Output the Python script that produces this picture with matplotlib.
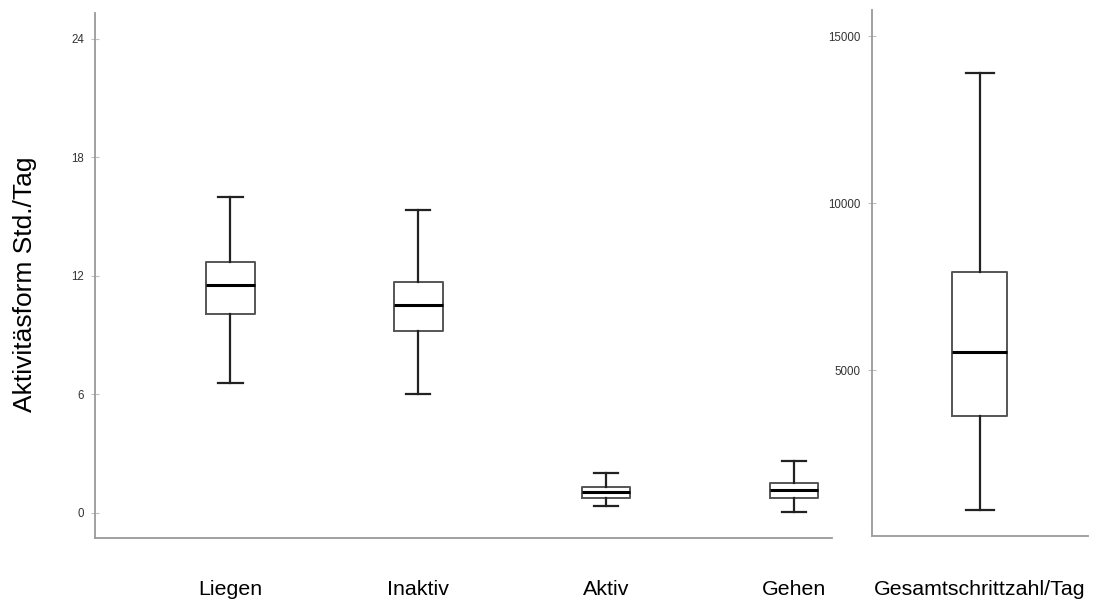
import matplotlib.pyplot as plt

# Activity categories (hours/day)
categories = ['Liegen', 'Inaktiv', 'Aktiv', 'Gehen']
whislo = [6.58, 6.03, 0.35, 0.05]
q1 = [10.08, 9.2, 0.76, 0.76]
med = [11.54, 10.53, 1.06, 1.16]
q3 = [12.7, 11.7, 1.32, 1.52]
whishi = [16.0, 15.34, 2.03, 2.63]

# Steps per day
steps_label = 'Gesamtschrittzahl/Tag'
steps_stats = [809, 3623, 5539, 7934, 13892]  # lo, q1, med, q3, hi

hour_ticks = [0, 6, 12, 18, 24]
step_ticks = [5000, 10000, 15000]

plt.rcParams['font.family'] = ['Liberation Sans', 'DejaVu Sans']

fig = plt.figure(figsize=(10.96, 6.02), dpi=100)
ax1 = fig.add_axes([0.0867, 0.1063, 0.672, 0.872])
ax2 = fig.add_axes([0.7956, 0.1096, 0.197, 0.873])

boxprops = dict(color='#555555', linewidth=1.4)
whiskerprops = dict(color='#222222', linewidth=1.6)
capprops = dict(color='#222222', linewidth=1.6)
medianprops = dict(color='black', linewidth=2.2)


def style_axis(ax, pad):
    for side in ['top', 'right']:
        ax.spines[side].set_visible(False)
    for side in ['left', 'bottom']:
        ax.spines[side].set_color('#9a9a9a')
        ax.spines[side].set_linewidth(1.3)
    ax.tick_params(axis='y', direction='inout', length=6, color='#c0c0c0',
                   labelsize=8.3, labelcolor='#333333', pad=5)
    ax.tick_params(axis='x', length=0, labelsize=15.4, pad=pad, labelcolor='black')


stats = []
for i, name in enumerate(categories):
    stats.append(dict(label=name, whislo=whislo[i], q1=q1[i], med=med[i],
                      q3=q3[i], whishi=whishi[i], fliers=[]))
ax1.bxp(stats, positions=range(1, len(categories) + 1), widths=0.26,
        boxprops=boxprops, whiskerprops=whiskerprops, capprops=capprops,
        medianprops=medianprops, showfliers=False)
ax1.set_xlim(0.28, 4.2)
ax1.set_ylim(-1.27, 25.3)
ax1.set_yticks(hour_ticks)
ax1.set_ylabel('Aktivitäsform Std./Tag', fontsize=19)
ax1.yaxis.set_label_coords(-0.079, 0.483)
style_axis(ax1, 30)

lo, a, m, b, hi = steps_stats
ax2.bxp([dict(label=steps_label, whislo=lo, q1=a, med=m, q3=b, whishi=hi, fliers=[])],
        positions=[1], widths=0.51,
        boxprops=boxprops, whiskerprops=whiskerprops, capprops=capprops,
        medianprops=medianprops, showfliers=False)
ax2.set_xlim(0, 2)
ax2.set_ylim(30, 15778)
ax2.set_yticks(step_ticks)
style_axis(ax2, 31.5)

fig.savefig('out.png', dpi=100)
